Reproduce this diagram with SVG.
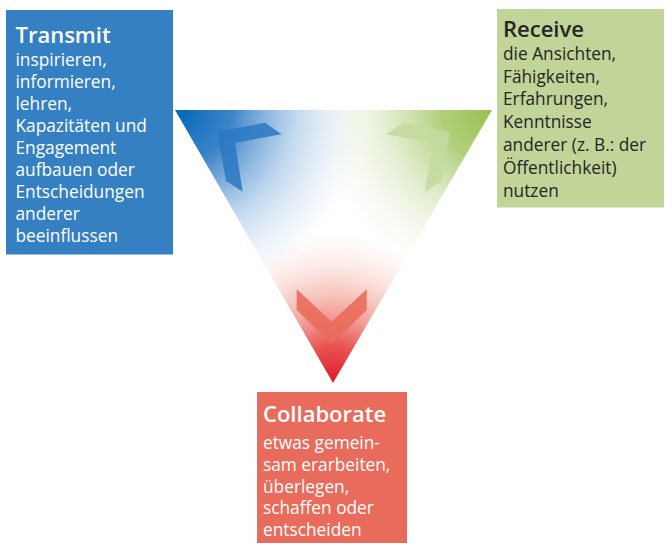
<svg xmlns="http://www.w3.org/2000/svg" width="672" height="545" viewBox="0 0 672 545">
<defs>
<style>
.title{font-family:"Open Sans","Liberation Sans",sans-serif;font-weight:600;font-size:22px}
.body{font-family:"Open Sans","Liberation Sans",sans-serif;font-size:17.3px}
.w{fill:#ffffff}
.d{fill:#262626}
</style>
<clipPath id="tri"><polygon points="175,110 492,110 333,383"/></clipPath>
<radialGradient id="gB" gradientUnits="userSpaceOnUse" cx="175" cy="110" r="190">
<stop offset="0" stop-color="#0065b8" stop-opacity="1"/>
<stop offset="0.3" stop-color="#1a6fbf" stop-opacity="0.85"/>
<stop offset="0.65" stop-color="#5b97d3" stop-opacity="0.35"/>
<stop offset="1" stop-color="#a9c8ea" stop-opacity="0"/>
</radialGradient>
<radialGradient id="gG" gradientUnits="userSpaceOnUse" cx="492" cy="110" r="175">
<stop offset="0" stop-color="#97bf4f" stop-opacity="1"/>
<stop offset="0.3" stop-color="#a5c865" stop-opacity="0.85"/>
<stop offset="0.65" stop-color="#c6dca0" stop-opacity="0.4"/>
<stop offset="1" stop-color="#e6efd6" stop-opacity="0"/>
</radialGradient>
<radialGradient id="gR" gradientUnits="userSpaceOnUse" cx="333" cy="383" r="150">
<stop offset="0" stop-color="#e0192a" stop-opacity="1"/>
<stop offset="0.25" stop-color="#e5403e" stop-opacity="0.9"/>
<stop offset="0.6" stop-color="#ef8f7f" stop-opacity="0.5"/>
<stop offset="1" stop-color="#f8d4cc" stop-opacity="0"/>
</radialGradient>
</defs>
<rect width="672" height="545" fill="#ffffff"/>
<g id="triangle" clip-path="url(#tri)">
<rect x="170" y="105" width="330" height="285" fill="#ffffff"/>
<rect x="170" y="105" width="330" height="285" fill="url(#gR)"/>
<rect x="170" y="105" width="330" height="285" fill="url(#gB)"/>
<rect x="170" y="105" width="330" height="285" fill="url(#gG)"/>
</g>
<g id="connectors">
<polygon id="arrow-transmit" points="217.3,131.7 265,122.7 281.7,134.3 235,142.7 242.7,191.7 226,181" fill="#2a78c2" fill-opacity="0.85"/>
<polygon id="arrow-receive" points="403.3,122.7 450,131.7 441.7,181 425,191.7 433.3,142.7 386,134.3" fill="#c5da9f" fill-opacity="0.9"/>
<polygon id="arrow-collaborate" points="296.7,289.3 331.7,321.7 366.7,289.3 366.7,310 331.7,344 296.7,310" fill="#e96b5c" fill-opacity="0.9"/>
</g>
<g id="transmit">
<rect x="6" y="10" width="167" height="244.5" fill="#3580c3"/>
<text class="title w" x="15.5" y="43">Transmit</text>
<text class="body w">
<tspan x="15.5" y="66">inspirieren,</tspan>
<tspan x="15.5" y="88">informieren,</tspan>
<tspan x="15.5" y="110">lehren,</tspan>
<tspan x="15.5" y="132">Kapazitäten und</tspan>
<tspan x="15.5" y="154">Engagement</tspan>
<tspan x="15.5" y="176">aufbauen oder</tspan>
<tspan x="15.5" y="198">Entscheidungen</tspan>
<tspan x="15.5" y="220">anderer</tspan>
<tspan x="15.5" y="242">beeinflussen</tspan>
</text>
</g>
<g id="receive">
<rect x="497" y="9" width="167" height="198.5" fill="#c1d598"/>
<text class="title d" x="503" y="37">Receive</text>
<text class="body d">
<tspan x="503" y="59.5">die Ansichten,</tspan>
<tspan x="503" y="82.5">Fähigkeiten,</tspan>
<tspan x="503" y="105">Erfahrungen,</tspan>
<tspan x="503" y="128">Kenntnisse</tspan>
<tspan x="503" y="151">anderer (z. B.: der</tspan>
<tspan x="503" y="174">Öffentlichkeit)</tspan>
<tspan x="503" y="197">nutzen</tspan>
</text>
</g>
<g id="collaborate">
<rect x="257" y="392" width="150" height="151" fill="#e96b5c"/>
<text class="title w" x="263" y="422">Collaborate</text>
<text class="body w">
<tspan x="263" y="449">etwas gemein-</tspan>
<tspan x="263" y="471">sam erarbeiten,</tspan>
<tspan x="263" y="492.5">überlegen,</tspan>
<tspan x="263" y="514">schaffen oder</tspan>
<tspan x="263" y="536">entscheiden</tspan>
</text>
</g>
</svg>
